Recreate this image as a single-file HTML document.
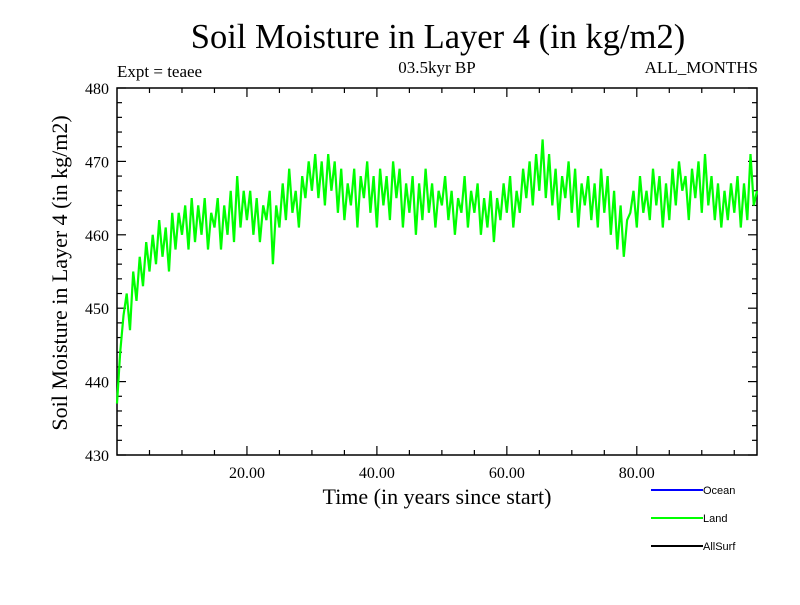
<!DOCTYPE html>
<html><head><meta charset="utf-8"><style>
body{margin:0;background:#fff;width:800px;height:600px;overflow:hidden}
svg text{font-family:"Liberation Serif",serif;fill:#000}
</style></head><body>
<svg width="800" height="600" xmlns="http://www.w3.org/2000/svg">
<text x="438" y="48" font-size="34.5" text-anchor="middle">Soil Moisture in Layer 4 (in kg/m2)</text>
<text x="117" y="77" font-size="17">Expt = teaee</text>
<text x="437" y="73" font-size="17" text-anchor="middle">03.5kyr BP</text>
<text x="758" y="73" font-size="17" text-anchor="end">ALL_MONTHS</text>
<text transform="translate(67,273) rotate(-90)" font-size="22" text-anchor="middle">Soil Moisture in Layer 4 (in kg/m2)</text>
<text x="437" y="504" font-size="22" text-anchor="middle">Time (in years since start)</text>
<g id="axes"></g>
<g id="series"></g>
<g>
<line x1="651" y1="490" x2="703" y2="490" stroke="#0000ff" stroke-width="2"/>
<text x="703" y="494" font-size="11" style="font-family:'Liberation Sans',sans-serif">Ocean</text>
<line x1="651" y1="518" x2="703" y2="518" stroke="#00ff00" stroke-width="2"/>
<text x="703" y="522" font-size="11" style="font-family:'Liberation Sans',sans-serif">Land</text>
<line x1="651" y1="546" x2="703" y2="546" stroke="#000" stroke-width="2"/>
<text x="703" y="550" font-size="11" style="font-family:'Liberation Sans',sans-serif">AllSurf</text>
</g>
</svg>
<script>
const yTicks=[430,440,450,460,470,480];
const xTickLabels=[20,40,60,80];
const timeStep=0.5;
const landValues=[437,444,449,452,447,455,451,457,453,459,
455,460,456,462,457,461,455,463,458,463,
460,464,458,465,459,464,460,465,458,463,
461,465,458,464,460,466,459,468,461,466,
462,466,460,465,459,464,462,466,456,464,
461,467,462,469,463,466,461,468,465,470,
466,471,465,470,464,471,466,470,463,469,
462,467,464,469,461,468,465,470,463,468,
461,469,464,468,462,470,465,469,461,467,
463,468,460,467,462,469,463,467,461,466,
464,468,462,466,460,465,463,468,461,466,
463,467,460,465,461,466,459,465,462,467,
463,468,461,466,463,469,465,470,464,471,
466,473,465,471,464,469,462,468,465,470,
463,469,461,467,464,468,462,467,461,469,
463,468,460,466,458,464,457,462,463,466,
461,468,463,466,462,469,464,468,461,467,
462,469,464,470,466,468,462,469,465,470,
463,471,464,468,462,467,461,466,462,467,
463,468,461,467,462,471,464,466];
const NS="http://www.w3.org/2000/svg";
const L=117,R=757,T=88,B=455,X0=0,X1=98.5,Y0=430,Y1=480;
const xs=v=>L+(v-X0)/(X1-X0)*(R-L);
const ys=v=>B-(v-Y0)/(Y1-Y0)*(B-T);
function mk(tag,a,parent){const e=document.createElementNS(NS,tag);for(const k in a)e.setAttribute(k,a[k]);parent.appendChild(e);return e;}
const ax=document.getElementById('axes');
const frame=mk('rect',{x:L,y:T,width:R-L,height:B-T,fill:'none',stroke:'#000','stroke-width':1.5},ax);


for(let v=Y0;v<=Y1;v+=2){const y=ys(v);const len=(v%10===0)?9:5;
mk('line',{x1:L,y1:y,x2:L+len,y2:y,stroke:'#000','stroke-width':1.2},ax);
mk('line',{x1:R,y1:y,x2:R-len,y2:y,stroke:'#000','stroke-width':1.2},ax);}
yTicks.forEach(v=>{const t=mk('text',{x:L-8,y:ys(v)+6,'font-size':16,'text-anchor':'end'},ax);t.textContent=v;

});
for(let v=5;v<X1;v+=5){const x=xs(v);const len=(v%20===0)?9:5;
mk('line',{x1:x,y1:T,x2:x,y2:T+len,stroke:'#000','stroke-width':1.2},ax);
mk('line',{x1:x,y1:B,x2:x,y2:B-len,stroke:'#000','stroke-width':1.2},ax);}
xTickLabels.forEach(v=>{const t=mk('text',{x:xs(v),y:B+23,'font-size':16,'text-anchor':'middle'},ax);t.textContent=v.toFixed(2);

});
const pts=landValues.map((v,i)=>xs(i*timeStep).toFixed(1)+','+ys(v).toFixed(1)).join(' ');
const pl=mk('polyline',{points:pts,fill:'none',stroke:'#00ff00','stroke-width':2.2,'stroke-linejoin':'miter'},document.getElementById('series'));


</script>
</body></html>
